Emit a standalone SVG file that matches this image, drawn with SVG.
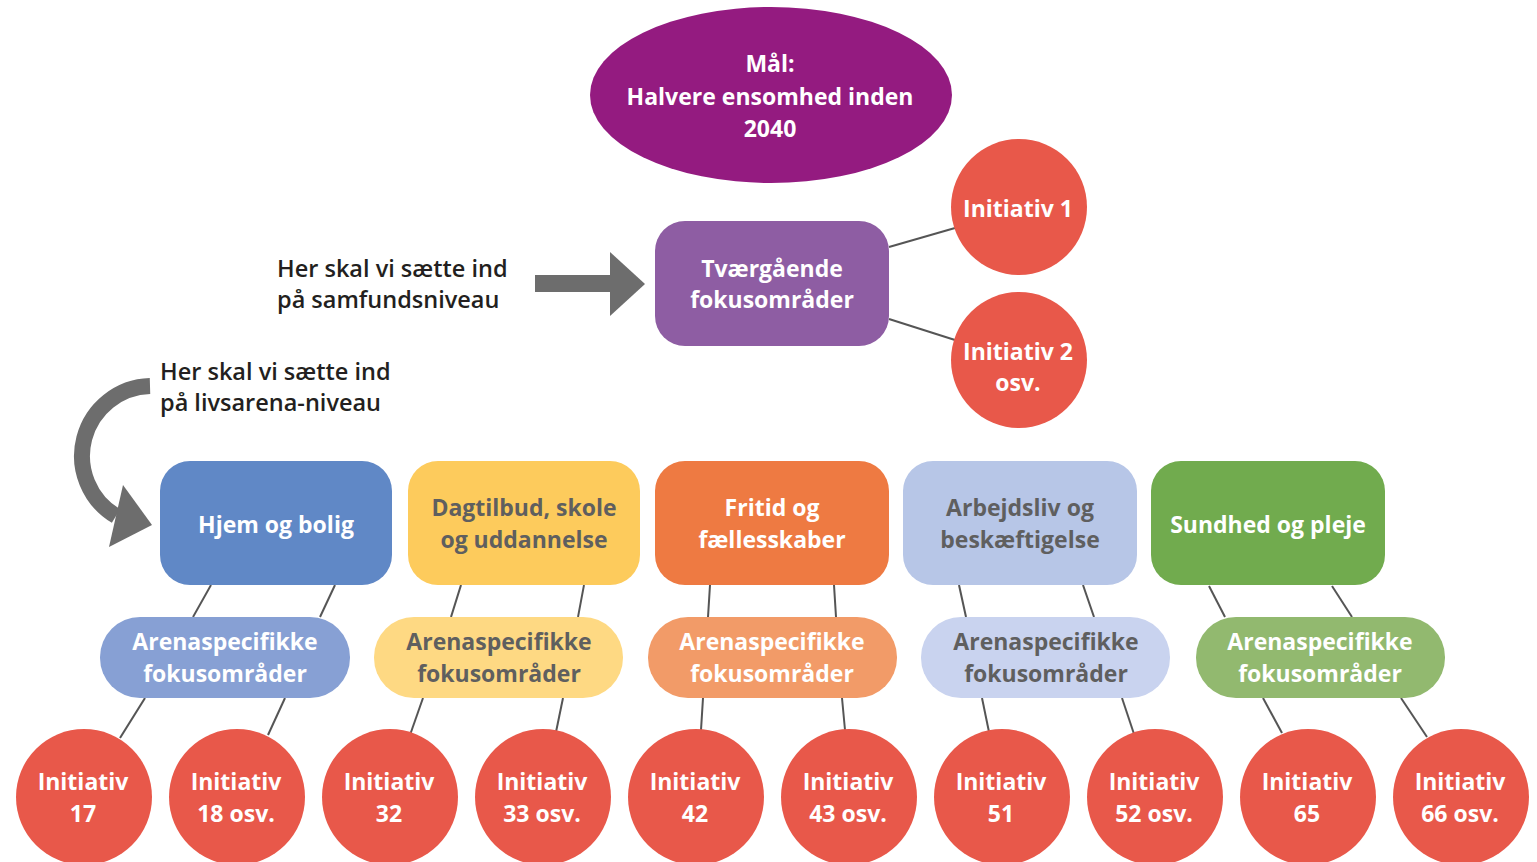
<svg xmlns="http://www.w3.org/2000/svg" width="1537" height="862" viewBox="0 0 1537 862">
<style>
text{font-family:"Open Sans","Noto Sans","Liberation Sans",sans-serif;font-weight:700;font-size:23px;text-anchor:middle}
.w{fill:#fff}
.g{fill:#5f5f5f}
.d{fill:#231f20;text-anchor:start;font-weight:600;font-size:23.5px}
.c{fill:#e8584a}
.ln{stroke:#555;stroke-width:2;fill:none}
</style>
<rect width="1537" height="862" fill="#fff"/>
<g id="connectors">
<line class="ln" x1="889" y1="247" x2="955" y2="228"/>
<line class="ln" x1="889" y1="319" x2="955" y2="340"/>
<line class="ln" x1="211" y1="585" x2="193" y2="617"/>
<line class="ln" x1="335" y1="585" x2="320" y2="617"/>
<line class="ln" x1="145" y1="698" x2="120" y2="738"/>
<line class="ln" x1="285" y1="698" x2="268" y2="735"/>
<line class="ln" x1="461" y1="585" x2="451" y2="617"/>
<line class="ln" x1="584" y1="585" x2="578" y2="617"/>
<line class="ln" x1="423" y1="698" x2="410" y2="735"/>
<line class="ln" x1="563" y1="698" x2="556" y2="732"/>
<line class="ln" x1="710" y1="585" x2="708" y2="617"/>
<line class="ln" x1="834" y1="585" x2="836" y2="617"/>
<line class="ln" x1="703" y1="698" x2="701" y2="730"/>
<line class="ln" x1="842" y1="698" x2="845" y2="730"/>
<line class="ln" x1="959" y1="585" x2="966" y2="617"/>
<line class="ln" x1="1083" y1="585" x2="1094" y2="617"/>
<line class="ln" x1="982" y1="698" x2="989" y2="732"/>
<line class="ln" x1="1122" y1="698" x2="1134" y2="734"/>
<line class="ln" x1="1209" y1="586" x2="1225" y2="617"/>
<line class="ln" x1="1332" y1="586" x2="1352" y2="617"/>
<line class="ln" x1="1263" y1="698" x2="1282" y2="733"/>
<line class="ln" x1="1401" y1="698" x2="1427" y2="737"/>
</g>
<g id="arrows" fill="#6d6d6d">
<rect x="535" y="275" width="78" height="17"/>
<polygon points="610,252 645,284 610,316"/>
<path d="M150 386 A70 70 0 0 0 116 516" fill="none" stroke="#6d6d6d" stroke-width="16"/>
<polygon points="123,485 152,525 109,547"/>
</g>
<g id="labels">
<text class="d" x="277" y="277">Her skal vi sætte ind</text>
<text class="d" x="277" y="308">på samfundsniveau</text>
<text class="d" x="160" y="380">Her skal vi sætte ind</text>
<text class="d" x="160" y="411">på livsarena-niveau</text>
</g>
<g id="goal">
<ellipse cx="771" cy="95" rx="181" ry="88" fill="#941b80"/>
<text class="w" x="770" y="72">Mål:</text>
<text class="w" x="770" y="105">Halvere ensomhed inden</text>
<text class="w" x="770" y="137">2040</text>
</g>
<g id="tvaergaaende">
<rect x="655" y="221" width="234" height="125" rx="30" fill="#8e5da3"/>
<text class="w" x="772" y="277">Tværgående</text>
<text class="w" x="772" y="308">fokusområder</text>
</g>
<g id="init1"><circle class="c" cx="1019" cy="207" r="68"/><text class="w" x="1018" y="217">Initiativ 1</text></g>
<g id="init2"><circle class="c" cx="1019" cy="360" r="68"/><text class="w" x="1018" y="360">Initiativ 2</text><text class="w" x="1018" y="391">osv.</text></g>
<g id="hjem"><rect x="160" y="461" width="232" height="124" rx="30" fill="#6088c6"/><text class="w" x="276" y="533">Hjem og bolig</text></g>
<g id="dagtilbud"><rect x="408" y="461" width="232" height="124" rx="30" fill="#fdcb5c"/><text class="g" x="524" y="516">Dagtilbud, skole</text><text class="g" x="524" y="548">og uddannelse</text></g>
<g id="fritid"><rect x="655" y="461" width="234" height="124" rx="30" fill="#ee7a42"/><text class="w" x="772" y="516">Fritid og</text><text class="w" x="772" y="548">fællesskaber</text></g>
<g id="arbejdsliv"><rect x="903" y="461" width="234" height="124" rx="30" fill="#b7c6e7"/><text class="g" x="1020" y="516">Arbejdsliv og</text><text class="g" x="1020" y="548">beskæftigelse</text></g>
<g id="sundhed"><rect x="1151" y="461" width="234" height="124" rx="30" fill="#71ab4e"/><text class="w" x="1268" y="533">Sundhed og pleje</text></g>
<g id="arena1"><rect x="100" y="617" width="250" height="81" rx="40" fill="#87a0d4"/><text class="w" x="225" y="650">Arenaspecifikke</text><text class="w" x="225" y="682">fokusområder</text></g>
<g id="arena2"><rect x="374" y="617" width="249" height="81" rx="40" fill="#fed983"/><text class="g" x="499" y="650">Arenaspecifikke</text><text class="g" x="499" y="682">fokusområder</text></g>
<g id="arena3"><rect x="648" y="617" width="249" height="81" rx="40" fill="#f29b68"/><text class="w" x="772" y="650">Arenaspecifikke</text><text class="w" x="772" y="682">fokusområder</text></g>
<g id="arena4"><rect x="921" y="617" width="249" height="81" rx="40" fill="#c9d3ef"/><text class="g" x="1046" y="650">Arenaspecifikke</text><text class="g" x="1046" y="682">fokusområder</text></g>
<g id="arena5"><rect x="1196" y="617" width="249" height="81" rx="40" fill="#92b96f"/><text class="w" x="1320" y="650">Arenaspecifikke</text><text class="w" x="1320" y="682">fokusområder</text></g>
<g id="i17"><circle class="c" cx="84" cy="797" r="68"/><text class="w" x="83" y="790">Initiativ</text><text class="w" x="83" y="822">17</text></g>
<g id="i18"><circle class="c" cx="237" cy="797" r="68"/><text class="w" x="236" y="790">Initiativ</text><text class="w" x="236" y="822">18 osv.</text></g>
<g id="i32"><circle class="c" cx="390" cy="797" r="68"/><text class="w" x="389" y="790">Initiativ</text><text class="w" x="389" y="822">32</text></g>
<g id="i33"><circle class="c" cx="543" cy="797" r="68"/><text class="w" x="542" y="790">Initiativ</text><text class="w" x="542" y="822">33 osv.</text></g>
<g id="i42"><circle class="c" cx="696" cy="797" r="68"/><text class="w" x="695" y="790">Initiativ</text><text class="w" x="695" y="822">42</text></g>
<g id="i43"><circle class="c" cx="849" cy="797" r="68"/><text class="w" x="848" y="790">Initiativ</text><text class="w" x="848" y="822">43 osv.</text></g>
<g id="i51"><circle class="c" cx="1002" cy="797" r="68"/><text class="w" x="1001" y="790">Initiativ</text><text class="w" x="1001" y="822">51</text></g>
<g id="i52"><circle class="c" cx="1155" cy="797" r="68"/><text class="w" x="1154" y="790">Initiativ</text><text class="w" x="1154" y="822">52 osv.</text></g>
<g id="i65"><circle class="c" cx="1308" cy="797" r="68"/><text class="w" x="1307" y="790">Initiativ</text><text class="w" x="1307" y="822">65</text></g>
<g id="i66"><circle class="c" cx="1461" cy="797" r="68"/><text class="w" x="1460" y="790">Initiativ</text><text class="w" x="1460" y="822">66 osv.</text></g>
</svg>
